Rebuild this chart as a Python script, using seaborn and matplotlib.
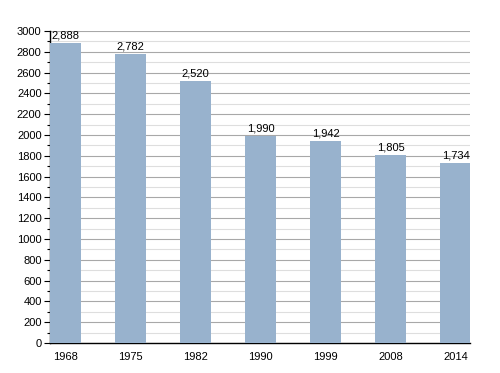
import matplotlib
matplotlib.use("Agg")
import matplotlib.pyplot as plt
from matplotlib.ticker import MultipleLocator
import seaborn as sns
import pandas as pd

# data
years = ["1968", "1975", "1982", "1990", "1999", "2008", "2014"]
population = [2888, 2782, 2520, 1990, 1942, 1805, 1734]

df = pd.DataFrame({"year": years, "population": population})

sns.set_style("white")
plt.rcParams["font.family"] = ["Liberation Sans", "DejaVu Sans"]
plt.rcParams["text.color"] = "black"
plt.rcParams["xtick.color"] = "black"
plt.rcParams["ytick.color"] = "black"

fig = plt.figure(figsize=(5, 3.73), dpi=100)
ax = fig.add_axes([0.1, 0.0804, 0.84, 0.8365])

sns.barplot(data=df, x="year", y="population", color="#98b2cd",
            saturation=1, width=0.477, linewidth=0, ax=ax, zorder=3)

ax.set_xlim(-0.24, 6.22)
ax.set_ylim(0, 3000)
ax.yaxis.set_major_locator(MultipleLocator(200))
ax.yaxis.set_minor_locator(MultipleLocator(100))
ax.grid(axis="y", which="major", color="#a8a8a8", linewidth=0.8, zorder=0)
ax.grid(axis="y", which="minor", color="#dedede", linewidth=0.8, zorder=0)
ax.set_axisbelow(True)

for s in ["top", "right"]:
    ax.spines[s].set_visible(False)
ax.spines["left"].set_color("black")
ax.spines["bottom"].set_color("black")
ax.spines["left"].set_linewidth(1)
ax.spines["bottom"].set_linewidth(1)

ax.tick_params(axis="y", which="major", left=True, length=4, width=0.8,
               labelsize=8, pad=2, colors="black")
ax.tick_params(axis="y", which="minor", left=True, length=2, width=0.8,
               colors="black")
ax.tick_params(axis="x", bottom=False, labelsize=8, pad=3, colors="black")
ax.set_xlabel("")
ax.set_ylabel("")

for i, v in enumerate(population):
    ax.text(i, v + 25, f"{v:,}", ha="center", va="bottom", fontsize=8,
            color="black")

fig.savefig("out.png", dpi=100)
